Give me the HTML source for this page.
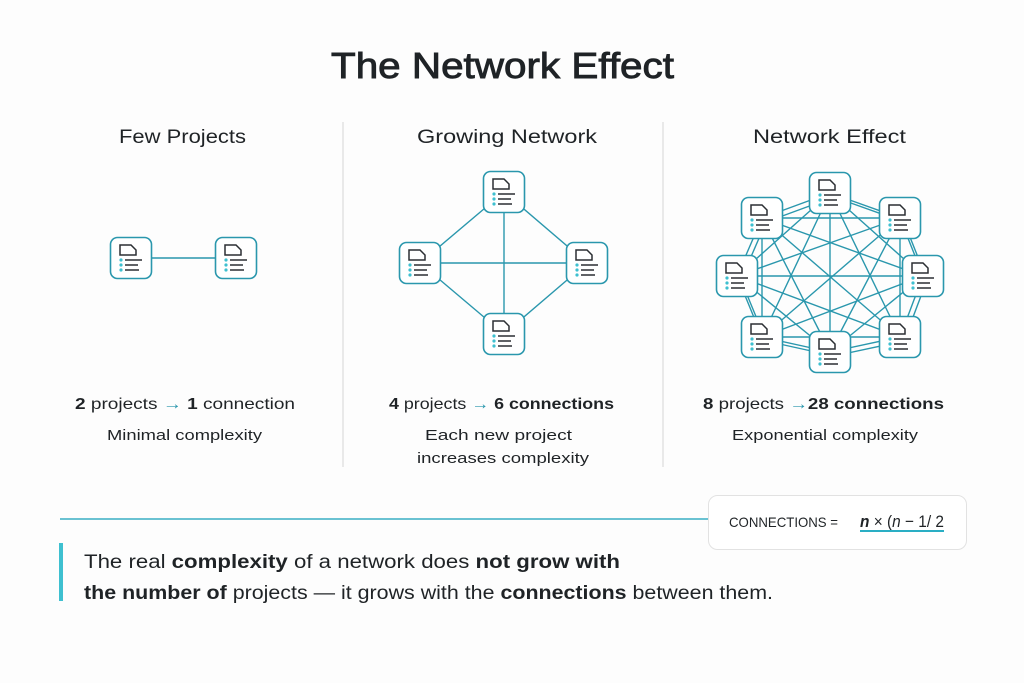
<!DOCTYPE html>
<html><head><meta charset="utf-8"><style>
body{margin:0;background:#fdfdfd;}
svg{display:block}
text{font-family:"Liberation Sans",sans-serif;fill:#1f2326}
</style></head><body>
<svg id="s" width="1024" height="683" viewBox="0 0 1024 683" xmlns="http://www.w3.org/2000/svg">
<rect width="1024" height="683" fill="#fdfdfd"/>
<text x="331" y="78" font-size="36" stroke="#1f2326" stroke-width="0.9" textLength="343" lengthAdjust="spacingAndGlyphs">The Network Effect</text>
<text x="119" y="143" font-size="19" textLength="127" lengthAdjust="spacingAndGlyphs">Few Projects</text>
<text x="417" y="143" font-size="19" textLength="180" lengthAdjust="spacingAndGlyphs">Growing Network</text>
<text x="753" y="143" font-size="19" textLength="153" lengthAdjust="spacingAndGlyphs">Network Effect</text>
<line x1="343" y1="122" x2="343" y2="467" stroke="#dcdcdc" stroke-width="1.2"/>
<line x1="663" y1="122" x2="663" y2="467" stroke="#dcdcdc" stroke-width="1.2"/>
<g id="edges" stroke="#2a97ad" stroke-width="1.4" fill="none"></g>
<g id="nodes"></g>
<text x="75" y="409" font-size="16" textLength="220" lengthAdjust="spacingAndGlyphs"><tspan font-weight="700">2</tspan> projects <tspan fill="#2a97ad">→</tspan> <tspan font-weight="700">1</tspan> connection</text>
<text x="107" y="440" font-size="15" textLength="155" lengthAdjust="spacingAndGlyphs">Minimal complexity</text>
<text x="389" y="409" font-size="16" textLength="225" lengthAdjust="spacingAndGlyphs"><tspan font-weight="700">4</tspan> projects <tspan fill="#2a97ad">→</tspan> <tspan font-weight="700">6 connections</tspan></text>
<text x="425" y="440" font-size="15" textLength="147" lengthAdjust="spacingAndGlyphs">Each new project</text>
<text x="417" y="463" font-size="15" textLength="172" lengthAdjust="spacingAndGlyphs">increases complexity</text>
<text x="703" y="409" font-size="16" textLength="241" lengthAdjust="spacingAndGlyphs"><tspan font-weight="700">8</tspan> projects <tspan fill="#2a97ad">→</tspan><tspan font-weight="700">28 connections</tspan></text>
<text x="732" y="440" font-size="15" textLength="186" lengthAdjust="spacingAndGlyphs">Exponential complexity</text>
<line x1="60" y1="519" x2="708" y2="519" stroke="#3aaec4" stroke-width="1.5"/>
<rect x="708.5" y="495.5" width="258" height="54" rx="9" fill="#fff" stroke="#e2e2e2"/>
<text x="729" y="527" font-size="14" textLength="109" lengthAdjust="spacingAndGlyphs">CONNECTIONS =</text>
<text x="860" y="527" font-size="17" textLength="84" lengthAdjust="spacingAndGlyphs"><tspan font-style="italic" font-weight="700">n</tspan> × (<tspan font-style="italic">n</tspan> − 1/ 2</text>
<line x1="860" y1="531" x2="944" y2="531" stroke="#2aaec4" stroke-width="2"/>
<rect x="59" y="543" width="4" height="58" fill="#3ec0d0"/>
<text x="84" y="568" font-size="19" textLength="536" lengthAdjust="spacingAndGlyphs">The real  <tspan font-weight="700">complexity</tspan> of a network does <tspan font-weight="700">not grow with</tspan></text>
<text x="84" y="599" font-size="19" textLength="689" lengthAdjust="spacingAndGlyphs"><tspan font-weight="700">the number of</tspan> projects — it grows with the <tspan font-weight="700">connections</tspan> between them.</text>
</svg>
<script>
var NS="http://www.w3.org/2000/svg";
var E=document.getElementById("edges"),N=document.getElementById("nodes");
function ln(a,b,off){var l=document.createElementNS(NS,"line");l.setAttribute("x1",a[0]+(off||0));l.setAttribute("y1",a[1]+(off||0));l.setAttribute("x2",b[0]+(off||0));l.setAttribute("y2",b[1]+(off||0));E.appendChild(l);}
function node(c){var x=c[0]-21,y=c[1]-21;
N.insertAdjacentHTML("beforeend",'<g transform="translate('+x+','+y+')"><rect x="0.5" y="0.5" width="41" height="41" rx="7" fill="#fff" stroke="#2a97ad" stroke-width="1.6"/><path d="M10 8h11l5 5v5H10z" fill="none" stroke="#2b2f33" stroke-width="1.5"/><circle cx="11" cy="23" r="1.6" fill="#3ec0d0"/><circle cx="11" cy="28" r="1.6" fill="#3ec0d0"/><circle cx="11" cy="33" r="1.6" fill="#3ec0d0"/><path d="M15 23h17M15 28h13M15 33h14" stroke="#2b2f33" stroke-width="1.5"/></g>');}
var p1=[[131,258],[236,258]];ln(p1[0],p1[1]);
var p2=[[504,192],[420,263],[587,263],[504,334]];
for(var i=0;i<4;i++)for(var j=i+1;j<4;j++)ln(p2[i],p2[j]);
var p3=[[830,193],[900,218],[923,276],[900,337],[830,352],[762,337],[737,276],[762,218]];
for(var i=0;i<8;i++)for(var j=i+1;j<8;j++){ln(p3[i],p3[j]);if(j==i+1||(i==0&&j==7)){ln(p3[i],p3[j],4);}}
p1.concat(p2,p3).forEach(node);
</script>
</body></html>
